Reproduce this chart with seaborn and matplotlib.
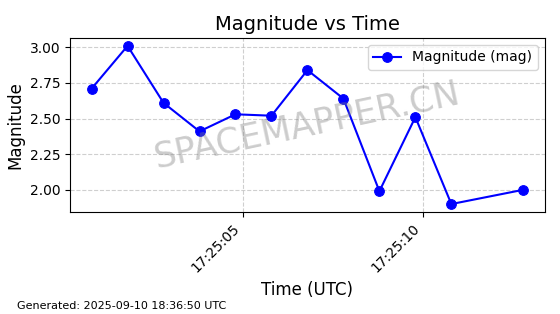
import matplotlib
matplotlib.use("Agg")
import matplotlib.pyplot as plt
import matplotlib.dates as mdates
import seaborn as sns
import pandas as pd

times = ["2025-09-10 17:25:00.8", "2025-09-10 17:25:01.8", "2025-09-10 17:25:02.8",
         "2025-09-10 17:25:03.8", "2025-09-10 17:25:04.8", "2025-09-10 17:25:05.8",
         "2025-09-10 17:25:06.8", "2025-09-10 17:25:07.8", "2025-09-10 17:25:08.8",
         "2025-09-10 17:25:09.8", "2025-09-10 17:25:10.8", "2025-09-10 17:25:12.8"]
magnitudes = [2.71, 3.01, 2.61, 2.41, 2.53, 2.52, 2.84, 2.64, 1.99, 2.51, 1.90, 2.00]

df = pd.DataFrame({"time": pd.to_datetime(times), "mag": magnitudes})

fig, ax = plt.subplots(figsize=(5.6, 3.14), dpi=100)
sns.lineplot(data=df, x="time", y="mag", ax=ax, marker="o", color="blue",
             markersize=7, markeredgecolor="blue", linewidth=1.5,
             label="Magnitude (mag)")

ax.set_title("Magnitude vs Time", fontsize=14)
ax.set_xlabel("Time (UTC)", fontsize=12)
ax.set_ylabel("Magnitude", fontsize=12)
ax.xaxis.set_major_locator(mdates.SecondLocator(bysecond=range(0, 60, 5)))
ax.xaxis.set_major_formatter(mdates.DateFormatter("%H:%M:%S"))
plt.setp(ax.get_xticklabels(), rotation=45, ha="right")
ax.grid(True, linestyle="--", alpha=0.6)
ax.legend(loc="upper right")

ax.text(0.5, 0.5, "SPACEMAPPER.CN", transform=ax.transAxes, fontsize=25,
        color="gray", alpha=0.4, rotation=12, ha="center", va="center")

fig.text(0.03, 0.015, "Generated: 2025-09-10 18:36:50 UTC", fontsize=8)

fig.subplots_adjust(left=0.125, right=0.973, top=0.879, bottom=0.325)
fig.savefig("out.png", dpi=100)
